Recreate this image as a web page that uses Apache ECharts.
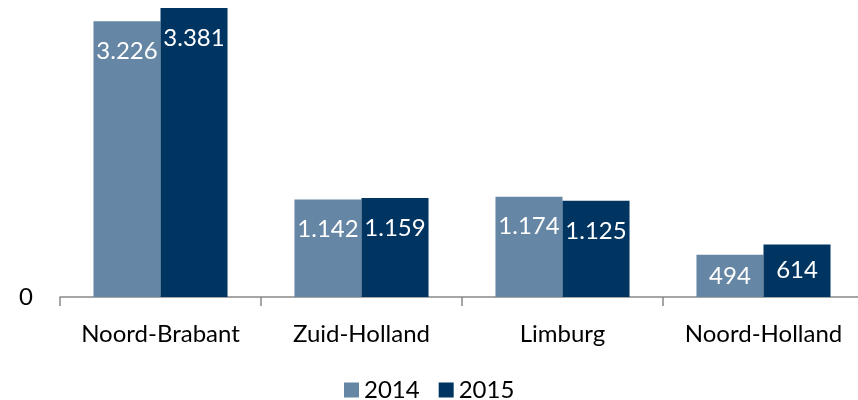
<!DOCTYPE html>
<html>
<head>
<meta charset="utf-8">
<script src="https://cdn.jsdelivr.net/npm/echarts@6/dist/echarts.min.js"></script>
<style>
html,body{margin:0;padding:0;background:#fff;overflow:hidden;}
#chart{width:866px;height:400px;}
</style>
</head>
<body>
<div id="chart"></div>
<script>
const categories = ['Noord-Brabant', 'Zuid-Holland', 'Limburg', 'Noord-Holland'];
const seriesNames = ['2014', '2015'];
const values2014 = [3226, 1142, 1174, 494];
const values2015 = [3381, 1159, 1125, 614];
const yTickLabels = ['0'];

const FONT = 'Lato';
const colors = ['#6586A4', '#003562'];

function fmt(v) {
  return v.toLocaleString('de-DE');
}
function buildData(vals) {
  return vals.map(v => ({
    value: v,
    label: v < 800 ? { position: 'inside', distance: 0 } : {}
  }));
}
const maxVal = Math.max(...values2014, ...values2015);

const chart = echarts.init(document.getElementById('chart'));
chart.setOption({
  animation: false,
  textStyle: { fontFamily: FONT },
  legend: {
    data: seriesNames,
    bottom: -7,
    left: 339,
    itemWidth: 15,
    itemHeight: 15,
    itemGap: 19,
    icon: 'rect',
    textStyle: { fontFamily: FONT, fontSize: 24, color: '#000' }
  },
  grid: { left: 60, right: 2, top: 8, bottom: 103, containLabel: false },
  xAxis: {
    type: 'category',
    data: categories,
    axisLine: { lineStyle: { color: '#898989', width: 1.5 } },
    axisTick: { show: true, length: 9, alignWithLabel: false, lineStyle: { color: '#898989', width: 1.5 } },
    axisLabel: { fontFamily: FONT, fontSize: 24, color: '#000', margin: 25, interval: 0 }
  },
  yAxis: {
    type: 'value',
    min: 0,
    max: maxVal,
    interval: maxVal,
    splitLine: { show: false },
    axisLine: { show: false },
    axisTick: { show: false },
    axisLabel: {
      fontFamily: FONT, fontSize: 24, color: '#000', margin: 27,
      formatter: v => (v === 0 ? yTickLabels[0] : '')
    }
  },
  series: [
    {
      name: seriesNames[0], type: 'bar', data: buildData(values2014),
      barGap: 0, barCategoryGap: '33.3%',
      itemStyle: { color: colors[0] },
      label: { show: true, position: 'insideTop', distance: 18, color: '#fff', fontFamily: FONT, fontSize: 24, formatter: p => fmt(p.value) }
    },
    {
      name: seriesNames[1], type: 'bar', data: buildData(values2015),
      barGap: 0, barCategoryGap: '33.3%',
      itemStyle: { color: colors[1] },
      label: { show: true, position: 'insideTop', distance: 18, color: '#fff', fontFamily: FONT, fontSize: 24, formatter: p => fmt(p.value) }
    }
  ]
});
</script>
</body>
</html>
